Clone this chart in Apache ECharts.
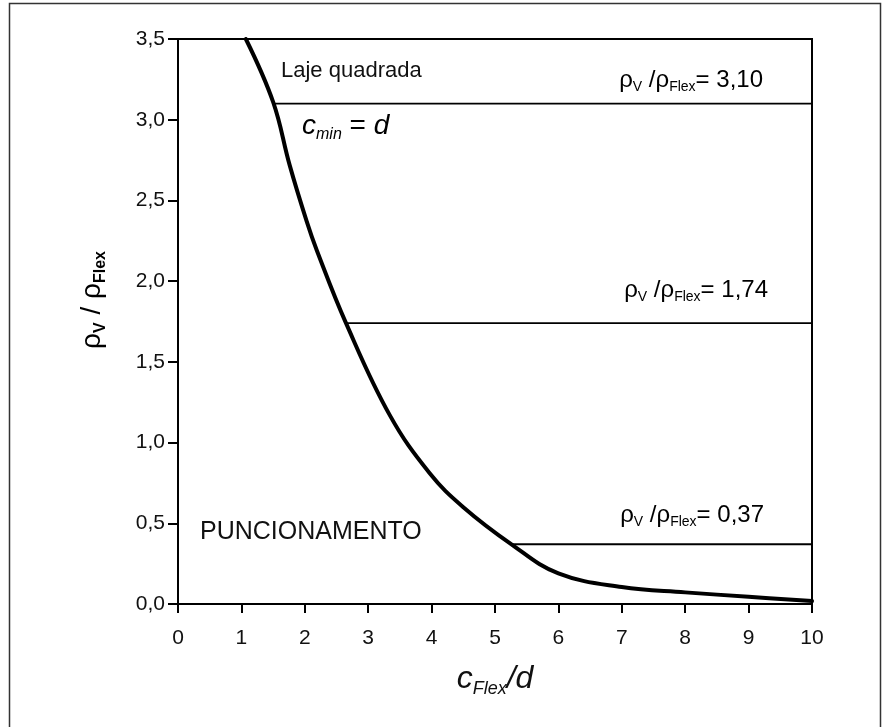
<!DOCTYPE html>
<html>
<head>
<meta charset="utf-8">
<script src="https://cdn.jsdelivr.net/npm/echarts@6/dist/echarts.min.js"></script>
<style>
html,body{margin:0;padding:0;background:#fff;}
#chart{width:882px;height:727px;}
</style>
</head>
<body>
<div id="chart"></div>
<script>
// Curve
var curveX = [1.07, 1.50, 1.76, 2.03, 2.19, 2.65, 3.34, 3.97, 4.50, 5.26, 6.00, 7.00, 8.00, 9.00, 10.0];
var curveY = [3.50, 3.11, 2.72, 2.37, 2.19, 1.74, 1.17, 0.81, 0.60, 0.37, 0.19, 0.105, 0.072, 0.045, 0.018];
// Horizontal levels and where they start on the curve
var levelValues = [3.10, 1.74, 0.37];
var levelStartX = [1.50, 2.65, 5.26];
var levelLabels = ['3,10', '1,74', '0,37'];
var xTicks = [0, 1, 2, 3, 4, 5, 6, 7, 8, 9, 10];
var yTicks = ['0,0', '0,5', '1,0', '1,5', '2,0', '2,5', '3,0', '3,5'];

var FONT = 'Liberation Sans, Arial, sans-serif';
var chart = echarts.init(document.getElementById('chart'), null, {renderer: 'canvas'});

var curveData = curveX.map(function (x, i) { return [x, curveY[i]]; });
var series = [];
levelValues.forEach(function (v, i) {
  series.push({
    type: 'line', symbol: 'none', silent: true, z: 3,
    lineStyle: {color: '#000', width: 1.8},
    data: [[levelStartX[i], v], [10, v]]
  });
});
series.push({
  type: 'line', symbol: 'none', silent: true, z: 5,
  smooth: 0.4,
  lineStyle: {color: '#000', width: 4, join: 'round', cap: 'round'},
  data: curveData
});

var richRho = {
  m: {fontSize: 24, fontFamily: FONT, color: '#111', lineHeight: 28},
  s: {fontSize: 14, fontFamily: FONT, color: '#111', lineHeight: 13, verticalAlign: 'bottom'}
};
function rhoText(val) {
  return '{m|ρ}{s|V}{m| /ρ}{s|Flex}{m|= ' + val + '}';
}
var graphics = [
  {type: 'rect', silent: true, z: -10,
   shape: {x: 9.5, y: 3.5, width: 871, height: 760},
   style: {fill: 'none', stroke: '#333', lineWidth: 1.5}},
  {type: 'text', left: 281, top: 60, silent: true,
   style: {text: 'Laje quadrada', fontSize: 22, fontFamily: FONT, fill: '#111'}},
  {type: 'text', left: 200, top: 520, silent: true,
   style: {text: 'PUNCIONAMENTO', fontSize: 25, fontFamily: FONT, fill: '#111'}},
  {type: 'text', left: 302, top: 112, silent: true,
   style: {
     text: '{c|c}{s|min}{e| = }{c|d}',
     rich: {
       c: {fontSize: 28, fontStyle: 'italic', fontFamily: FONT, color: '#111', lineHeight: 34},
       s: {fontSize: 16, fontStyle: 'italic', fontFamily: FONT, color: '#111', lineHeight: 16, verticalAlign: 'bottom'},
       e: {fontSize: 28, fontFamily: FONT, color: '#111', lineHeight: 34}
     }
   }},
  {type: 'text', silent: true, x: 92, y: 300, rotation: Math.PI / 2,
   style: {
     text: '{m|ρ}{s|V}{m| / ρ}{s|Flex}',
     align: 'center', verticalAlign: 'middle',
     rich: {
       m: {fontSize: 28, fontFamily: FONT, color: '#111', lineHeight: 34},
       s: {fontSize: 16, fontWeight: 'bold', fontFamily: FONT, color: '#111', lineHeight: 16, verticalAlign: 'bottom'}
     }
   }}
];
var labelPos = [[763, 68], [768, 278], [764, 503]];
levelLabels.forEach(function (t, i) {
  graphics.push({
    type: 'text', silent: true,
    right: 882 - labelPos[i][0], top: labelPos[i][1],
    style: {text: rhoText(t), rich: richRho}
  });
});

chart.setOption({
  animation: false,
  backgroundColor: '#fff',
  grid: {left: 178, right: 70, top: 39, bottom: 123, show: true, borderColor: '#000', borderWidth: 2, backgroundColor: 'transparent'},
  xAxis: {
    type: 'value', min: 0, max: 10, interval: 1,
    name: '{c|c}{s|Flex}{c|/d}',
    nameLocation: 'middle', nameGap: 56,
    nameTextStyle: {
      rich: {
        c: {fontSize: 32, fontStyle: 'italic', fontFamily: FONT, color: '#111', lineHeight: 38},
        s: {fontSize: 18, fontStyle: 'italic', fontFamily: FONT, color: '#111', lineHeight: 17, verticalAlign: 'bottom'}
      }
    },
    axisLine: {show: true, onZero: false, lineStyle: {color: '#000', width: 2}},
    axisTick: {show: true, length: 9, lineStyle: {color: '#000', width: 2}},
    axisLabel: {fontSize: 21, fontFamily: FONT, color: '#111', margin: 24,
      formatter: function (v) { return String(xTicks[Math.round(v)]); }},
    splitLine: {show: false}
  },
  yAxis: {
    type: 'value', min: 0, max: 3.5, interval: 0.5,
    axisLine: {show: true, onZero: false, lineStyle: {color: '#000', width: 2}},
    axisTick: {show: true, length: 10, lineStyle: {color: '#000', width: 2}},
    axisLabel: {fontSize: 21, fontFamily: FONT, color: '#111', margin: 13,
      formatter: function (v) { return yTicks[Math.round(v * 2)]; }},
    splitLine: {show: false}
  },
  graphic: graphics,
  series: series
});
</script>
</body>
</html>
